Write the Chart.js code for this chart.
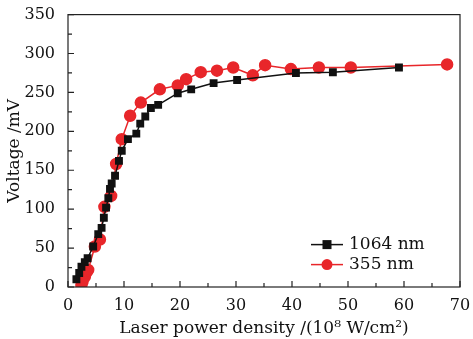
<!DOCTYPE html>
<html>
<head>
<meta charset="utf-8">
<script src="https://cdn.jsdelivr.net/npm/chart.js@4.4.0/dist/chart.umd.min.js"></script>
<style>
  html, body { margin: 0; padding: 0; background: #fff; }
  #wrap { width: 473px; height: 339px; }
</style>
</head>
<body>
<div id="wrap"><canvas id="chart" width="473" height="339"></canvas></div>
<script>
// 1064 nm series
let x1064 = [1.5, 2, 2.4, 3, 3.5, 4.5, 5.4, 6, 6.4, 6.8, 7.2, 7.5, 7.8, 8.4, 9.1, 9.6, 10.7, 12.2, 12.9, 13.8, 14.8, 16.1, 19.6, 22, 26, 30.2, 40.7, 47.3, 59.1];
let y1064 = [10, 18, 26, 32, 37, 52, 68, 76, 89, 102, 114, 126, 133, 143, 162, 175, 190, 197, 210, 219, 230, 234, 249, 254, 262, 266, 275, 276, 282];
// 355 nm series
let x355 = [2.4, 2.6, 3, 3.3, 3.6, 4.8, 5.7, 6.5, 7.7, 8.6, 9.6, 11.1, 13, 16.4, 19.6, 21.1, 23.7, 26.6, 29.5, 33, 35.2, 39.8, 44.8, 50.5, 67.7];
let y355 = [3, 7, 13, 19, 22, 52, 61, 103, 117, 158, 190, 220, 237, 254, 259, 267, 276, 278, 282, 272, 285, 280, 282, 282, 286];

let xTicks = [0, 10, 20, 30, 40, 50, 60, 70];
let yTicks = [0, 50, 100, 150, 200, 250, 300, 350];
let labels = ["1064 nm", "355 nm"];

function toPoints(xs, ys) {
  return xs.map(function (x, i) { return { x: x, y: ys[i] }; });
}

let font = "'DejaVu Serif', 'Liberation Serif', serif";

// inward ticks, box frame and legend
let framePlugin = {
  id: "frame",
  afterDraw: function (chart) {
    let c = chart.ctx;
    let a = chart.chartArea;
    let xs = chart.scales.x, ys = chart.scales.y;
    c.save();
    c.strokeStyle = "#222";
    c.lineWidth = 1.2;
    c.strokeRect(a.left, a.top, a.right - a.left, a.bottom - a.top);
    c.beginPath();
    for (let v = 0; v <= 70; v += 5) {
      let px = xs.getPixelForValue(v);
      let len = v % 10 === 0 ? 6 : 4;
      c.moveTo(px, a.bottom); c.lineTo(px, a.bottom - len);
    }
    for (let v = 0; v <= 350; v += 25) {
      let py = ys.getPixelForValue(v);
      let len = v % 50 === 0 ? 6 : 4;
      c.moveTo(a.left, py); c.lineTo(a.left + len, py);
    }
    c.stroke();

    // legend
    let lx = a.left + 243, ly = a.top + 230;
    chart.data.datasets.forEach(function (ds, i) {
      let yy = ly + i * 20;
      c.strokeStyle = ds.borderColor;
      c.lineWidth = 1.5;
      c.beginPath(); c.moveTo(lx, yy); c.lineTo(lx + 32, yy); c.stroke();
      c.fillStyle = ds.backgroundColor;
      if (ds.pointStyle === "rect") {
        c.fillRect(lx + 16 - 4.5, yy - 4.5, 9, 9);
      } else {
        c.beginPath(); c.arc(lx + 16, yy, 5.5, 0, Math.PI * 2); c.fill();
      }
      c.fillStyle = "#111";
      c.font = "17px " + font;
      c.textBaseline = "middle";
      c.fillText(ds.label, lx + 38, yy);
    });
    c.restore();
  }
};

let ctx = document.getElementById("chart").getContext("2d");
let chart = new Chart(ctx, {
  type: "scatter",
  data: {
    datasets: [
      {
        label: labels[0],
        data: toPoints(x1064, y1064),
        showLine: true,
        borderColor: "#111",
        backgroundColor: "#111",
        borderWidth: 1.5,
        pointStyle: "rect",
        pointRadius: 4.5,
        pointHoverRadius: 4.5
      },
      {
        label: labels[1],
        data: toPoints(x355, y355),
        showLine: true,
        borderColor: "#e8262a",
        backgroundColor: "#e8262a",
        borderWidth: 1.5,
        pointStyle: "circle",
        pointRadius: 5.5,
        pointHoverRadius: 5.5
      }
    ]
  },
  options: {
    responsive: false,
    animation: false,
    layout: { padding: { top: 13, right: 13, left: 4, bottom: 0 } },
    plugins: { legend: { display: false }, tooltip: { enabled: false } },
    scales: {
      x: {
        type: "linear",
        min: 0, max: 70,
        afterBuildTicks: function (s) { s.ticks = xTicks.map(function (v) { return { value: v }; }); },
        afterFit: function (s) { s.height = 52; },
        grid: { display: false },
        border: { display: false },
        ticks: { color: "#111", font: { family: font, size: 16 }, padding: 1, maxRotation: 0 },
        title: {
          display: true,
          text: "Laser power density /(10\u2078 W/cm\u00b2)",
          color: "#111",
          font: { family: font, size: 17 },
          padding: { top: -3, bottom: 0 }
        }
      },
      y: {
        type: "linear",
        min: 0, max: 350,
        afterBuildTicks: function (s) { s.ticks = yTicks.map(function (v) { return { value: v }; }); },
        afterFit: function (s) { s.width = 64; },
        grid: { display: false },
        border: { display: false },
        ticks: { color: "#111", font: { family: font, size: 16 }, padding: 5 },
        title: {
          display: true,
          text: "Voltage /mV",
          color: "#111",
          font: { family: font, size: 17 },
          padding: { top: 0, bottom: 0 }
        }
      }
    }
  },
  plugins: [framePlugin]
});
</script>
</body>
</html>
